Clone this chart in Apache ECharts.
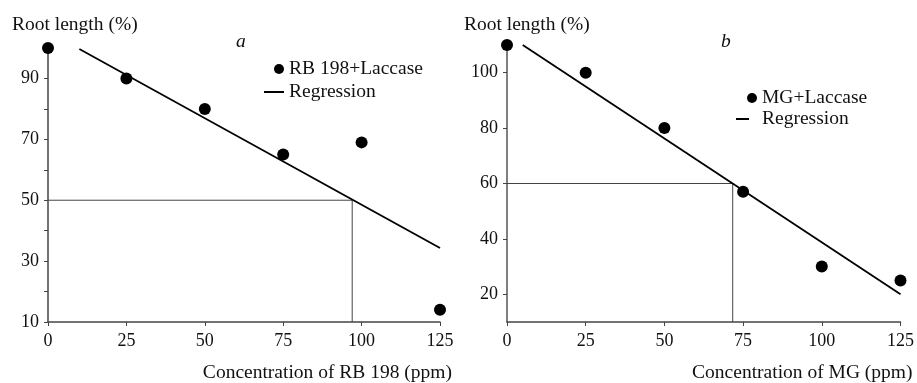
<!DOCTYPE html>
<html>
<head>
<meta charset="utf-8">
<script src="https://cdn.jsdelivr.net/npm/echarts@6/dist/echarts.min.js"></script>
<style>
html,body{margin:0;padding:0;background:#fff;}
#chart{width:917px;height:383px;}
</style>
</head>
<body>
<div id="chart"></div>
<script>
// Panel a: RB 198 + Laccase
const concA = [0, 25, 50, 75, 100, 125];
const rootA = [100, 90, 80, 65, 69, 14];
const regA = [[10, 99.7], [125, 34.3]];
const guideA = [[0, 50], [97, 50], [97, 10]];
const yTicksA = [10, 30, 50, 70, 90];

// Panel b: MG + Laccase
const concB = [0, 25, 50, 75, 100, 125];
const rootB = [110, 100, 80, 57, 30, 25];
const regB = [[5, 110], [125, 20]];
const guideB = [[0, 60], [71.7, 60], [71.7, 10]];
const yTicksB = [20, 40, 60, 80, 100];

const FONT = 'Liberation Serif';
const FS = 18;     // tick labels
const FN = 19.5;   // names, legend, titles
const txt = '#111';

function pairs(xs, ys) { return xs.map((x, i) => [x, ys[i]]); }

function xAxisCfg(gridIndex, name) {
  return {
    type: 'value', gridIndex, min: 0, max: 125, interval: 25,
    name, nameLocation: 'end', nameGap: 12,
    nameTextStyle: { fontFamily: FONT, fontSize: FN, color: txt, align: 'right', verticalAlign: 'top', padding: [41, 0, 0, 0] },
    axisLine: { onZero: false, lineStyle: { color: '#444', width: 1.5 } },
    axisTick: { show: true, length: 4, lineStyle: { color: '#444' } },
    axisLabel: { fontFamily: FONT, fontSize: FS, color: txt, margin: 10 },
    splitLine: { show: false }
  };
}

const legendText = { fontFamily: FONT, fontSize: FN, color: txt };

const option = {
  animation: false,
  backgroundColor: '#fff',
  grid: [
    { left: 48, top: 48, width: 392, height: 275 },
    { left: 507, top: 45, width: 395, height: 279 }
  ],
  xAxis: [
    xAxisCfg(0, 'Concentration of RB 198 (ppm)'),
    xAxisCfg(1, 'Concentration of MG (ppm)')
  ],
  yAxis: [
    {
      type: 'value', gridIndex: 0, min: 10, max: 100, interval: 10,
      axisLine: { show: true, lineStyle: { color: '#444', width: 1.5 } },
      axisTick: { show: true, length: 4, lineStyle: { color: '#444' } },
      axisLabel: { fontFamily: FONT, fontSize: FS, color: txt, margin: 9,
        formatter: v => (yTicksA.indexOf(v) >= 0 ? String(v) : '') },
      splitLine: { show: false }
    },
    {
      type: 'value', gridIndex: 1, min: 10, max: 110,
      axisLine: { show: true, lineStyle: { color: '#555', width: 1.5 } },
      axisTick: { show: true, length: 4, customValues: yTicksB, lineStyle: { color: '#444' } },
      axisLabel: { fontFamily: FONT, fontSize: FS, color: txt, margin: 9, customValues: yTicksB },
      splitLine: { show: false }
    }
  ],
  legend: [
    { left: 274, top: 59, padding: 0, itemWidth: 10, itemHeight: 10, icon: 'circle', data: ['RB 198+Laccase'],
      textStyle: legendText, selectedMode: false },
    { left: 264, top: 82, padding: 0, itemWidth: 20, itemHeight: 2, icon: 'rect', data: ['Regression'],
      textStyle: legendText, selectedMode: false },
    { left: 747, top: 88, padding: 0, itemWidth: 10, itemHeight: 10, icon: 'circle', data: ['MG+Laccase'],
      textStyle: legendText, selectedMode: false },
    { left: 736, top: 109, padding: 0, itemWidth: 13, itemHeight: 2, icon: 'rect', data: ['Regression '],
      textStyle: Object.assign({}, legendText, { padding: [0, 0, 0, 8] }), selectedMode: false }
  ],
  graphic: [
    { type: 'text', left: 12, top: 15, style: { text: 'Root length (%)', fontFamily: FONT, fontSize: FN, fill: txt } },
    { type: 'text', left: 464, top: 15, style: { text: 'Root length (%)', fontFamily: FONT, fontSize: FN, fill: txt } },
    { type: 'text', left: 236, top: 32, style: { text: 'a', fontFamily: FONT, fontSize: FN, fontStyle: 'italic', fill: txt } },
    { type: 'text', left: 721, top: 32, style: { text: 'b', fontFamily: FONT, fontSize: FN, fontStyle: 'italic', fill: txt } }
  ],
  series: [
    { type: 'line', name: 'guideA', xAxisIndex: 0, yAxisIndex: 0, data: guideA, showSymbol: false, symbol: 'none',
      lineStyle: { color: '#444', width: 1 }, z: 1, silent: true },
    { type: 'line', name: 'Regression', xAxisIndex: 0, yAxisIndex: 0, data: regA, showSymbol: false, symbol: 'none',
      itemStyle: { color: '#000' }, lineStyle: { color: '#000', width: 1.8 }, z: 2 },
    { type: 'scatter', name: 'RB 198+Laccase', xAxisIndex: 0, yAxisIndex: 0, data: pairs(concA, rootA),
      symbol: 'circle', symbolSize: 12, itemStyle: { color: '#000', opacity: 1 }, z: 3 },
    { type: 'line', name: 'guideB', xAxisIndex: 1, yAxisIndex: 1, data: guideB, showSymbol: false, symbol: 'none',
      lineStyle: { color: '#444', width: 1 }, z: 1, silent: true },
    { type: 'line', name: 'Regression ', xAxisIndex: 1, yAxisIndex: 1, data: regB, showSymbol: false, symbol: 'none',
      itemStyle: { color: '#000' }, lineStyle: { color: '#000', width: 1.8 }, z: 2 },
    { type: 'scatter', name: 'MG+Laccase', xAxisIndex: 1, yAxisIndex: 1, data: pairs(concB, rootB),
      symbol: 'circle', symbolSize: 12, itemStyle: { color: '#000', opacity: 1 }, z: 3 }
  ]
};

const chart = echarts.init(document.getElementById('chart'), null, { renderer: 'canvas' });
chart.setOption(option);
</script>
</body>
</html>
